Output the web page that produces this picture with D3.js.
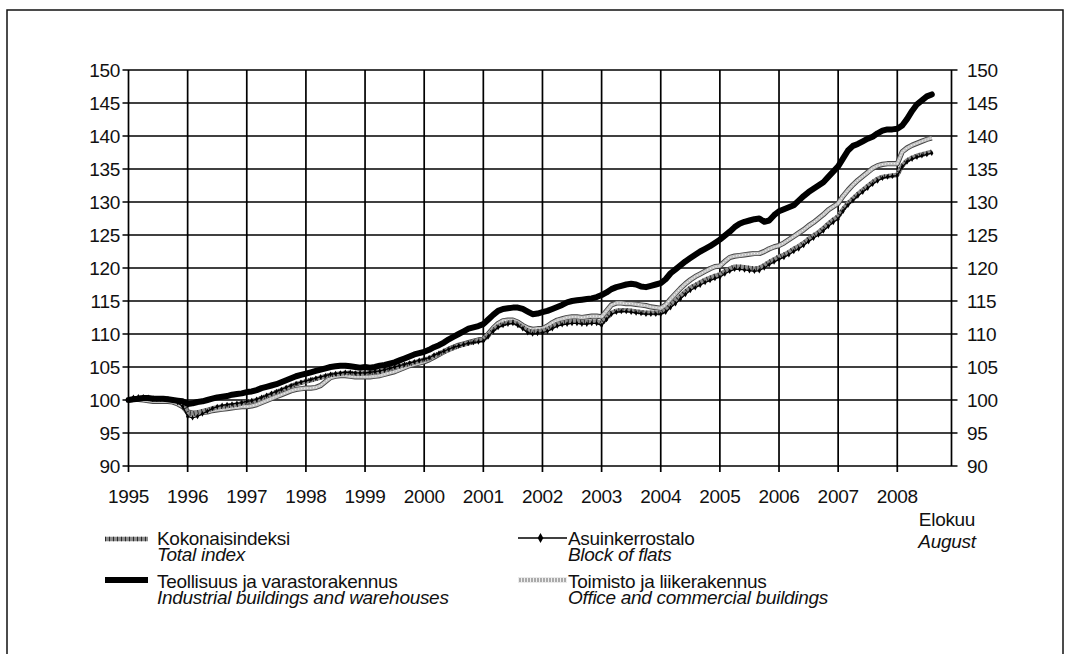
<!DOCTYPE html>
<html><head><meta charset="utf-8">
<script src="https://cdn.jsdelivr.net/npm/d3@7"></script>
<style>body{margin:0;background:#fff}svg{display:block}text{font-family:"Liberation Sans",Arial,sans-serif;fill:#111;letter-spacing:-0.3px}</style>
</head><body>
<svg id="c" width="1070" height="654"></svg>
<script>
// ---- data (monthly, Jan 1995 = 100, last value August 2008) ----
const years = [1995,1996,1997,1998,1999,2000,2001,2002,2003,2004,2005,2006,2007,2008];
const yTicks = [90,95,100,105,110,115,120,125,130,135,140,145,150];

const total = [
 100.0,100.2,100.3,100.3,100.2,100.1,100.1,100.1,100.1,100.0,99.8,99.4,
 98.0,97.9,98.1,98.3,98.5,98.7,98.9,99.0,99.1,99.2,99.3,99.5,
 99.7,99.8,100.0,100.3,100.6,100.9,101.2,101.5,101.8,102.1,102.4,102.6,
 102.8,103.0,103.2,103.4,103.6,103.8,103.9,104.0,104.1,104.1,104.0,104.0,
 104.1,104.1,104.2,104.3,104.5,104.7,104.9,105.1,105.3,105.5,105.7,105.9,
 106.1,106.3,106.7,107.0,107.3,107.6,107.9,108.2,108.4,108.6,108.8,109.0,
 109.1,109.8,110.6,111.2,111.5,111.7,111.8,111.5,111.0,110.5,110.3,110.4,
 110.5,110.7,111.1,111.5,111.7,111.8,111.9,111.9,111.8,111.8,111.9,111.9,
 111.6,112.4,113.2,113.5,113.6,113.6,113.5,113.4,113.3,113.2,113.2,113.2,
 113.2,113.6,114.4,115.0,115.7,116.4,117.0,117.4,117.8,118.2,118.5,118.8,
 119.0,119.5,119.9,120.2,120.2,120.1,120.0,119.9,120.0,120.4,120.9,121.3,
 121.7,122.0,122.4,122.9,123.3,123.8,124.4,124.9,125.4,126.0,126.7,127.3,
 127.8,128.9,129.8,130.5,131.2,131.8,132.4,133.0,133.5,133.8,133.9,134.0,
 134.1,135.5,136.3,136.7,137.0,137.2,137.4,137.6];

const flats = [
 100.0,100.4,100.5,100.5,100.4,100.3,100.2,100.2,100.2,100.0,99.6,99.0,
 97.5,97.3,97.5,97.9,98.3,98.7,99.0,99.2,99.3,99.4,99.5,99.6,
 99.8,99.9,100.1,100.4,100.7,101.0,101.3,101.6,101.9,102.2,102.5,102.7,
 102.9,103.1,103.3,103.5,103.7,103.9,104.0,104.1,104.2,104.2,104.1,104.1,
 104.1,104.2,104.3,104.4,104.6,104.8,105.0,105.2,105.4,105.6,105.8,106.0,
 106.2,106.4,106.8,107.1,107.4,107.7,108.0,108.2,108.4,108.6,108.7,108.8,
 108.9,109.6,110.4,111.0,111.3,111.5,111.6,111.3,110.8,110.2,110.0,110.1,
 110.2,110.4,110.8,111.2,111.4,111.5,111.6,111.6,111.5,111.5,111.6,111.6,
 111.3,112.2,113.0,113.3,113.4,113.4,113.3,113.2,113.1,113.0,113.0,113.0,
 113.0,113.3,114.0,114.6,115.3,116.0,116.6,117.0,117.4,117.8,118.1,118.4,
 118.6,119.1,119.5,119.8,119.8,119.7,119.6,119.5,119.6,120.0,120.5,120.9,
 121.3,121.6,122.0,122.5,122.9,123.4,124.0,124.5,125.0,125.6,126.3,126.9,
 127.4,128.6,129.5,130.2,130.9,131.5,132.1,132.7,133.2,133.6,133.8,133.9,
 134.0,135.3,136.1,136.5,136.8,137.0,137.2,137.4];

const industrial = [
 100.0,100.1,100.2,100.3,100.3,100.2,100.2,100.2,100.1,100.0,99.9,99.8,
 99.4,99.5,99.7,99.8,100.0,100.2,100.4,100.5,100.6,100.8,100.9,101.0,
 101.2,101.3,101.5,101.8,102.0,102.2,102.4,102.7,103.0,103.3,103.6,103.8,
 104.0,104.2,104.4,104.6,104.8,105.0,105.1,105.2,105.2,105.1,105.0,104.9,
 105.0,104.9,105.0,105.2,105.3,105.5,105.7,106.0,106.3,106.6,106.9,107.1,
 107.3,107.6,108.0,108.3,108.7,109.2,109.6,110.0,110.4,110.8,111.0,111.2,
 111.5,112.2,112.9,113.5,113.8,113.9,114.0,114.0,113.8,113.4,113.0,113.1,
 113.3,113.5,113.8,114.1,114.4,114.8,115.0,115.1,115.2,115.3,115.4,115.6,
 115.9,116.3,116.8,117.1,117.3,117.5,117.6,117.5,117.2,117.1,117.3,117.5,
 117.7,118.3,119.2,119.8,120.4,121.0,121.5,122.0,122.5,122.9,123.3,123.8,
 124.3,124.9,125.5,126.2,126.7,127.0,127.2,127.4,127.5,127.0,127.2,128.0,
 128.6,128.9,129.2,129.5,130.2,130.9,131.5,132.0,132.5,133.0,133.8,134.6,
 135.4,136.6,137.8,138.5,138.8,139.2,139.6,139.9,140.4,140.8,141.0,141.0,
 141.1,141.6,142.6,143.8,144.8,145.4,146.0,146.3];

const office = [
 100.0,100.1,100.1,100.0,99.9,99.8,99.8,99.8,99.8,99.7,99.4,99.0,
 98.2,98.0,98.0,98.1,98.2,98.4,98.5,98.6,98.7,98.8,98.9,99.0,
 99.0,99.1,99.3,99.6,99.9,100.2,100.5,100.8,101.1,101.4,101.6,101.7,
 101.8,101.8,101.9,102.2,102.8,103.4,103.6,103.7,103.7,103.6,103.5,103.5,
 103.5,103.5,103.6,103.7,103.9,104.1,104.3,104.6,104.9,105.2,105.4,105.6,
 105.8,106.1,106.5,106.9,107.3,107.7,108.0,108.3,108.5,108.7,108.9,109.1,
 109.2,110.0,110.9,111.6,112.0,112.1,112.1,111.8,111.3,110.9,110.7,110.8,
 110.8,111.2,111.7,112.1,112.3,112.5,112.6,112.6,112.5,112.6,112.7,112.7,
 112.6,113.5,114.4,114.7,114.7,114.6,114.6,114.5,114.4,114.3,114.1,114.0,
 113.9,114.4,115.3,116.1,116.9,117.6,118.2,118.7,119.1,119.5,119.9,120.2,
 120.3,121.0,121.6,121.8,121.9,122.0,122.1,122.2,122.2,122.5,122.9,123.2,
 123.4,123.8,124.3,124.8,125.3,125.8,126.4,126.9,127.5,128.1,128.8,129.3,
 129.8,130.9,131.8,132.6,133.3,133.9,134.5,135.1,135.5,135.7,135.8,135.8,
 135.8,137.6,138.2,138.6,138.9,139.2,139.5,139.7];

const legendFi = ["Kokonaisindeksi","Asuinkerrostalo","Teollisuus ja varastorakennus","Toimisto ja liikerakennus"];
const legendEn = ["Total index","Block of flats","Industrial buildings and warehouses","Office and commercial buildings"];
const lastMonthFi = "Elokuu", lastMonthEn = "August";

// ---- drawing ----
const svg = d3.select("#c");
const nMonths = years.length * 12;
const x = d3.scaleLinear().domain([0, nMonths - 1]).range([128.5, 951.5]);
const y = d3.scaleLinear().domain([90, 150]).range([466, 70]);
const FS = "19px";

// outer frame
svg.append("rect").attr("x",7).attr("y",10).attr("width",1056).attr("height",700)
  .attr("fill","none").attr("stroke","#111").attr("stroke-width",1.5);

const g = svg.append("g");
const gridC = "#000", gridW = 1.7;
yTicks.forEach(v => {
  g.append("line").attr("x1",x(0)-6).attr("x2",x(nMonths-1)+6)
    .attr("y1",y(v)).attr("y2",y(v)).attr("stroke",gridC).attr("stroke-width",gridW);
  g.append("text").attr("x",120).attr("y",y(v)).attr("dy","0.36em")
    .attr("text-anchor","end").style("font-size",FS).text(v);
  g.append("text").attr("x",967).attr("y",y(v)).attr("dy","0.36em")
    .attr("text-anchor","start").style("font-size",FS).text(v);
});
years.forEach((yr,i) => {
  const xi = x(i*12);
  g.append("line").attr("x1",xi).attr("x2",xi).attr("y1",y(150)).attr("y2",y(90)+6)
    .attr("stroke",gridC).attr("stroke-width",gridW);
  g.append("text").attr("x",xi).attr("y",503).attr("text-anchor","middle")
    .style("font-size",FS).text(yr);
});
g.append("line").attr("x1",x(nMonths-1)).attr("x2",x(nMonths-1)).attr("y1",y(150)).attr("y2",y(90))
  .attr("stroke",gridC).attr("stroke-width",gridW);

const line = d3.line().x((d,i)=>x(i)).y(d=>y(d));

// office: light gray hatched with dark edge
g.append("path").attr("d",line(office)).attr("fill","none").attr("stroke","#444").attr("stroke-width",5.2).attr("stroke-linejoin","round");
g.append("path").attr("d",line(office)).attr("fill","none").attr("stroke","#c2c2c2").attr("stroke-width",3.4).attr("stroke-linejoin","round");
g.append("path").attr("d",line(office)).attr("fill","none").attr("stroke","#f2f2f2").attr("stroke-width",1.2).attr("stroke-dasharray","1 2");
// total: darker speckled gray
g.append("path").attr("d",line(total)).attr("fill","none").attr("stroke","#8d8d8d").attr("stroke-width",4.6).attr("stroke-linejoin","round");
g.append("path").attr("d",line(total)).attr("fill","none").attr("stroke","#2a2a2a").attr("stroke-width",4.6).attr("stroke-dasharray","1 3");
// flats: thin black with diamonds
g.append("path").attr("d",line(flats)).attr("fill","none").attr("stroke","#000").attr("stroke-width",1.3);
const diamond = d3.symbol().type(d3.symbolDiamond).size(9);
g.selectAll("path.fm").data(flats).join("path").attr("class","fm")
  .attr("d",diamond()).attr("transform",(d,i)=>`translate(${x(i)},${y(d)})`).attr("fill","#000");
// industrial: thick black
g.append("path").attr("d",line(industrial)).attr("fill","none").attr("stroke","#000").attr("stroke-width",6).attr("stroke-linejoin","round").attr("stroke-linecap","round");

// last month label
const lm = svg.append("text").attr("x",947).attr("y",526).attr("text-anchor","middle").style("font-size",FS);
lm.append("tspan").attr("x",947).text(lastMonthFi);
lm.append("tspan").attr("x",947).attr("dy",22).style("font-style","italic").text(lastMonthEn);

// legend
const L = svg.append("g");
function sample(kind, x1, x2, yy) {
  if (kind === 0) {
    L.append("line").attr("x1",x1).attr("x2",x2).attr("y1",yy).attr("y2",yy).attr("stroke","#8d8d8d").attr("stroke-width",4.6);
    L.append("line").attr("x1",x1).attr("x2",x2).attr("y1",yy).attr("y2",yy).attr("stroke","#2a2a2a").attr("stroke-width",4.6).attr("stroke-dasharray","1 3");
  } else if (kind === 1) {
    L.append("line").attr("x1",x1).attr("x2",x2).attr("y1",yy).attr("y2",yy).attr("stroke","#000").attr("stroke-width",1.3);
    L.append("path").attr("d",d3.symbol().type(d3.symbolDiamond).size(28)()).attr("transform",`translate(${(x1+x2)/2-2},${yy})`).attr("fill","#000");
  } else if (kind === 2) {
    L.append("line").attr("x1",x1).attr("x2",x2).attr("y1",yy).attr("y2",yy).attr("stroke","#000").attr("stroke-width",6);
  } else {
    L.append("line").attr("x1",x1).attr("x2",x2).attr("y1",yy).attr("y2",yy).attr("stroke","#aaa").attr("stroke-width",4.4);
    L.append("line").attr("x1",x1).attr("x2",x2).attr("y1",yy).attr("y2",yy).attr("stroke","#eee").attr("stroke-width",4.4).attr("stroke-dasharray","1 2");
  }
}
const pos = [
  {sx1:105,sx2:148,tx:157,sy:539,b1:545},
  {sx1:518,sx2:567,tx:568,sy:538,b1:545},
  {sx1:105,sx2:148,tx:157,sy:580,b1:588},
  {sx1:518,sx2:567,tx:568,sy:580,b1:588}
];
legendFi.forEach((t,i) => {
  const p = pos[i];
  sample(i, p.sx1, p.sx2, p.sy);
  const tx = L.append("text").attr("x",p.tx).attr("y",p.b1).style("font-size",FS);
  tx.append("tspan").attr("x",p.tx).text(t);
  tx.append("tspan").attr("x",p.tx).attr("dy",16).style("font-style","italic").text(legendEn[i]);
});
</script>
</body></html>
